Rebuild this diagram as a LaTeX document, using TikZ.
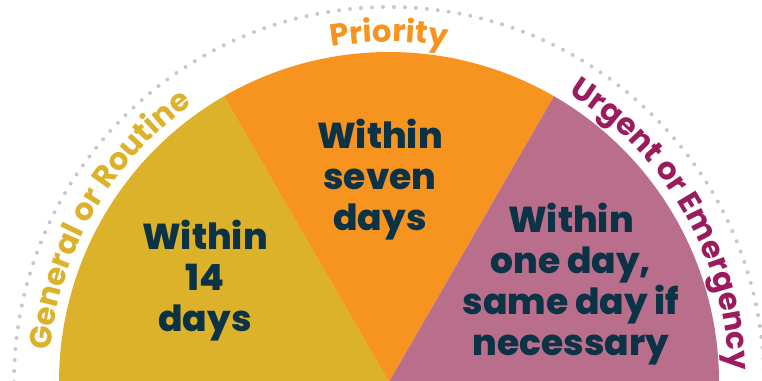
\documentclass[tikz,border=0pt]{standalone}
\usepackage{fontspec}
\setmainfont{Poppins}
\newfontfamily\heavyfont{Poppins ExtraBold}
\usepackage{xcolor}
\usetikzlibrary{decorations,decorations.text}

\definecolor{routine}{HTML}{DBB22A}
\definecolor{priority}{HTML}{F6941F}
\definecolor{urgent}{HTML}{B96E8B}
\definecolor{urgenttext}{HTML}{9B1B5F}
\definecolor{navy}{HTML}{0C3246}
\definecolor{rimgrey}{HTML}{C6C8CF}

\begin{document}
\begin{tikzpicture}[
	within/.style = {text=navy, align=center, font=\heavyfont\fontsize{20.5}{23.3}\selectfont},
	rim/.style = {rimgrey, line width=.08cm, line cap=round, dash pattern=on 0pt off .22cm}]
	\useasboundingbox (0,0) rectangle (15.24,7.62);
	\coordinate (o) at (7.78,-.02);
	\fill[routine] (o) -- ++(180:6.6) arc (180:120:6.6) -- cycle;
	\fill[priority] (o) -- ++(120:6.6) arc (120:60:6.6) -- cycle;
	\fill[urgent] (o) -- ++(60:6.6) arc (60:0:6.6) -- cycle;
	\draw[rim] (o) ++(180:7.5) arc (180:0:7.5);
	\path[decorate, decoration={text along path, text align=center, text color=routine,
		text={|\bfseries\fontsize{17.5}{17.5}\selectfont|General or Routine}}] (o) ++(180:6.8) arc (180:120:6.8);
	\path[decorate, decoration={text along path, text align=center, text color=priority,
		text={|\bfseries\fontsize{17.5}{17.5}\selectfont|Priority}}] (o) ++(120:6.8) arc (120:60:6.8);
	\path[decorate, decoration={text along path, text align=center, text color=urgenttext,
		text={|\bfseries\fontsize{17.5}{17.5}\selectfont|Urgent or Emergency}}] (o) ++(60:6.8) arc (60:0:6.8);
	\node[within] (fortnight) at (4.1,2.0) {Within\\14\\days};
	\node[within] (week) at (7.6,4.02) {Within\\seven\\days};
	\node[within] (sameday) at (11.42,1.94) {Within\\one day,\\same day if\\necessary};
\end{tikzpicture}
\end{document}
